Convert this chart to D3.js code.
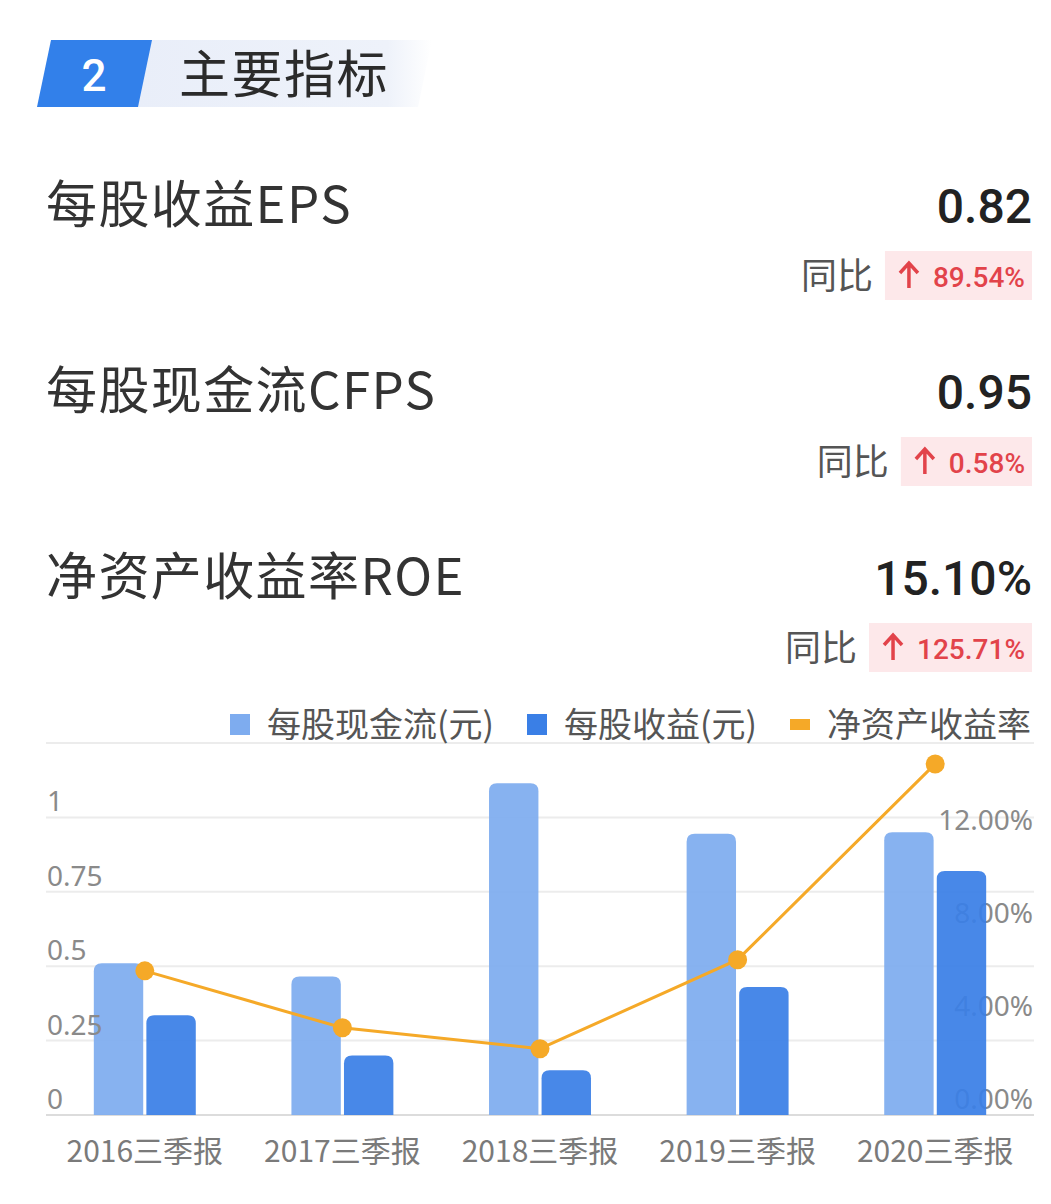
<!DOCTYPE html>
<html>
<head>
<meta charset="utf-8">
<script src="https://cdn.jsdelivr.net/npm/d3@7"></script>
<style>
  body { margin: 0; background: #fff; }
  svg { display: block; }
</style>
</head>
<body>
<div id="chart"></div>
<script>
const categories = ["2016三季报", "2017三季报", "2018三季报", "2019三季报", "2020三季报"];
const cfpsValues = [0.51, 0.465, 1.115, 0.945, 0.95];
const epsValues = [0.335, 0.2, 0.15, 0.43, 0.82];
const roeValues = [6.2, 3.75, 2.85, 6.68, 15.1];
const leftTicks = [0, 0.25, 0.5, 0.75, 1];
const rightTicks = [0, 4, 8, 12];
const seriesNames = ["每股现金流(元)", "每股收益(元)", "净资产收益率"];

// 上方指标
const metrics = [
  { name: "每股收益EPS", value: "0.82", yoy: "89.54%" },
  { name: "每股现金流CFPS", value: "0.95", yoy: "0.58%" },
  { name: "净资产收益率ROE", value: "15.10%", yoy: "125.71%" },
];

const W = 1051, H = 1204;
const cjk = "'Noto Sans CJK SC', 'Noto Sans', sans-serif";
const lightBlue = "#7eacef";
const darkBlue = "#3a7fe6";
const orange = "#f5a928";

const svg = d3.select("#chart").append("svg").attr("width", W).attr("height", H);
svg.append("rect").attr("width", W).attr("height", H).attr("fill", "#fff");

// 标题条
const grad = svg.append("defs").append("linearGradient").attr("id", "banner");
grad.append("stop").attr("offset", "0%").attr("stop-color", "#e9eef9");
grad.append("stop").attr("offset", "85%").attr("stop-color", "#eef2fa");
grad.append("stop").attr("offset", "100%").attr("stop-color", "#fff");
svg.append("path").attr("d", "M150,40 L432,40 L418,107 L136,107 Z").attr("fill", "url(#banner)");
svg.append("path").attr("d", "M51,40 L152,40 L138,107 L37,107 Z").attr("fill", "#3280ea");
svg.append("text").attr("x", 94).attr("y", 91).attr("text-anchor", "middle")
  .attr("font-family", "Roboto, sans-serif").attr("font-size", 44).attr("font-weight", 500)
  .attr("fill", "#fff").text("2");
svg.append("text").attr("x", 179).attr("y", 93).attr("letter-spacing", 1.5)
  .attr("font-family", cjk).attr("font-size", 51).attr("fill", "#2b2b2b").text("主要指标");

// 指标行
const rowY = [205, 391, 577];
metrics.forEach((m, i) => {
  const y = rowY[i];
  svg.append("text").attr("x", 46).attr("y", y + 18).attr("letter-spacing", 1.4)
    .attr("font-family", cjk).attr("font-size", 51).attr("fill", "#333").text(m.name);
  svg.append("text").attr("x", 1032).attr("y", y + 18).attr("text-anchor", "end")
    .attr("font-family", "Roboto, sans-serif").attr("font-size", 48).attr("font-weight", 500)
    .attr("fill", "#222").text(m.value);

  const badge = svg.append("g");
  const t = badge.append("text").attr("x", 1025).attr("y", y + 82).attr("text-anchor", "end")
    .attr("font-family", "Roboto, sans-serif").attr("font-size", 28).attr("font-weight", 500)
    .attr("fill", "#e2434a").text(m.yoy);
  const tw = t.node().getComputedTextLength();
  const left = 1025 - tw - 32;
  badge.insert("rect", "text").attr("x", left - 16).attr("y", y + 46).attr("width", 1032 - left + 16)
    .attr("height", 49).attr("fill", "#fde8ea");
  // 上箭头
  badge.append("path")
    .attr("d", `M${left + 8},${y + 83} L${left + 8},${y + 59} M${left - 1},${y + 68} L${left + 8},${y + 58} L${left + 17},${y + 68}`)
    .attr("stroke", "#e2434a").attr("stroke-width", 3.5).attr("fill", "none");
  svg.append("text").attr("x", left - 28).attr("y", y + 84).attr("text-anchor", "end")
    .attr("font-family", cjk).attr("font-size", 36).attr("fill", "#555").text("同比");
});

// 图表
const plotLeft = 46, plotRight = 1034, y0 = 1115, yTop = 743;

const x0 = d3.scaleBand().domain(categories).range([plotLeft, plotRight])
  .paddingInner(0.484).paddingOuter(0.242);
const x1 = d3.scaleBand().domain(["cfps", "eps"]).range([0, x0.bandwidth()]).paddingInner(0.06);
const yL = d3.scaleLinear().domain([0, 1.25]).range([y0, yTop]);
const yR = d3.scaleLinear().domain([0, 16]).range([y0, yTop]);

// 网格线
svg.append("g").selectAll("line").data(d3.range(0, 1.26, 0.25)).join("line")
  .attr("x1", plotLeft).attr("x2", plotRight)
  .attr("y1", d => yL(d)).attr("y2", d => yL(d))
  .attr("stroke", d => d === 0 ? "#dcdcdc" : "#ececec").attr("stroke-width", 2);

// 右轴标签（在柱子下面）
svg.append("g").selectAll("text").data(rightTicks).join("text")
  .attr("x", 1033).attr("y", d => yR(d) - 6).attr("text-anchor", "end")
  .attr("font-family", "'Noto Sans', sans-serif").attr("font-size", 28).attr("fill", "#8a8a8a")
  .text(d => d3.format(".2f")(d) + "%");

function topRounded(x, y, w, h, r) {
  r = Math.min(r, h, w / 2);
  return `M${x},${y + h} L${x},${y + r} Q${x},${y} ${x + r},${y} L${x + w - r},${y} Q${x + w},${y} ${x + w},${y + r} L${x + w},${y + h} Z`;
}

const barData = categories.map((c, i) => [
  { cat: c, key: "cfps", v: cfpsValues[i], color: lightBlue },
  { cat: c, key: "eps", v: epsValues[i], color: darkBlue },
]).flat();

svg.append("g").selectAll("path").data(barData).join("path")
  .attr("d", d => topRounded(x0(d.cat) + x1(d.key), yL(d.v), x1.bandwidth(), y0 - yL(d.v), 8))
  .attr("fill", d => d.color).attr("opacity", 0.93);

// 左轴标签
svg.append("g").selectAll("text").data(leftTicks).join("text")
  .attr("x", 47).attr("y", d => yL(d) - 6)
  .attr("font-family", "'Noto Sans', sans-serif").attr("font-size", 28).attr("fill", "#8a8a8a")
  .text(d => d);

// ROE 折线
const xc = d => x0(d) + x0.bandwidth() / 2;
const line = d3.line().x((d, i) => xc(categories[i])).y(d => yR(d));
svg.append("path").datum(roeValues).attr("d", line)
  .attr("fill", "none").attr("stroke", orange).attr("stroke-width", 3);
svg.append("g").selectAll("circle").data(roeValues).join("circle")
  .attr("cx", (d, i) => xc(categories[i])).attr("cy", d => yR(d)).attr("r", 9.5)
  .attr("fill", orange);

// X 轴标签
svg.append("g").selectAll("text").data(categories).join("text")
  .attr("x", d => xc(d)).attr("y", 1162).attr("text-anchor", "middle")
  .attr("font-family", cjk).attr("font-size", 30).attr("fill", "#7a7a7a").text(d => d);

// 图例
const legend = [
  { name: seriesNames[0], color: lightBlue, sx: 230, tx: 267, shape: "sq" },
  { name: seriesNames[1], color: darkBlue, sx: 527, tx: 564, shape: "sq" },
  { name: seriesNames[2], color: orange, sx: 790, tx: 827, shape: "bar" },
];
const lg = svg.append("g");
legend.forEach(l => {
  if (l.shape === "sq") {
    lg.append("rect").attr("x", l.sx).attr("y", 714).attr("width", 20).attr("height", 21).attr("fill", l.color);
  } else {
    lg.append("rect").attr("x", l.sx).attr("y", 719).attr("width", 20).attr("height", 11).attr("fill", l.color);
  }
  lg.append("text").attr("x", l.tx).attr("y", 737)
    .attr("font-family", cjk).attr("font-size", 34).attr("fill", "#555").text(l.name);
});
</script>
</body>
</html>
